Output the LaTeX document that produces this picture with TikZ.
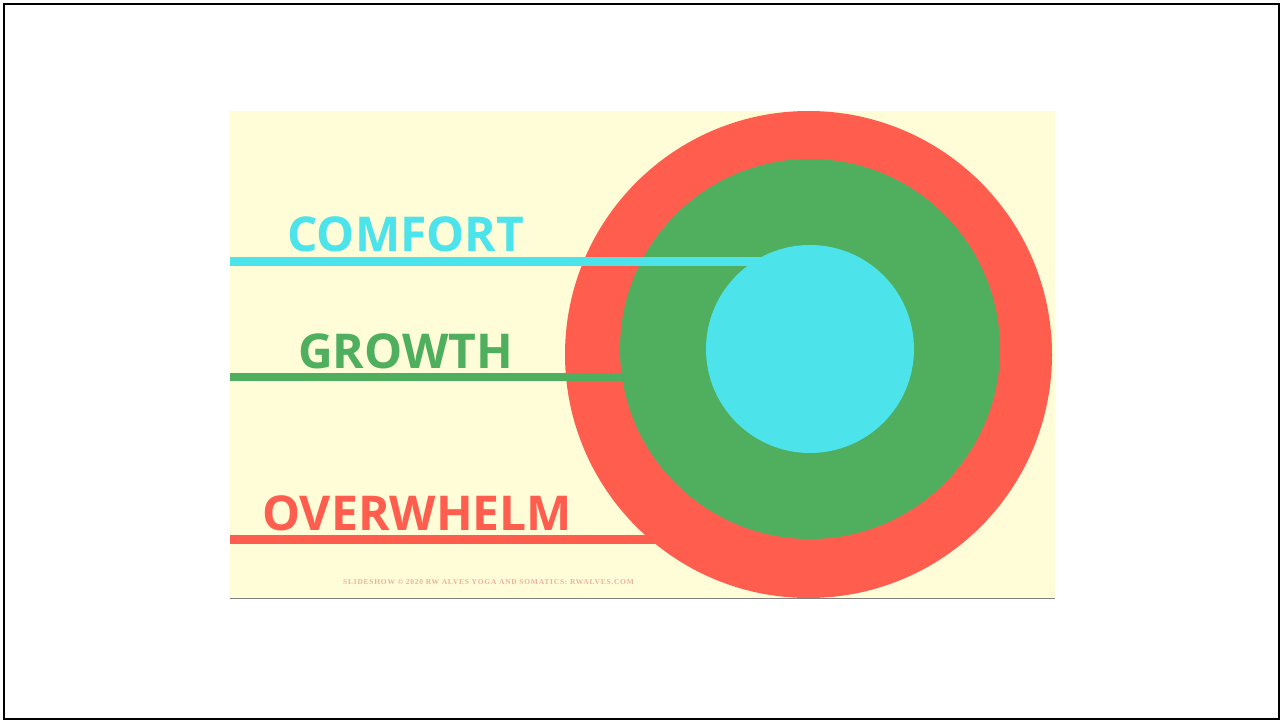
\documentclass[tikz,border=0pt]{standalone}
\usepackage{fontspec}
\newfontfamily\labelfont{Open Sans}
\newfontfamily\footfont[LetterSpace=10]{Liberation Serif}
\definecolor{zonered}{RGB}{255,94,79}
\definecolor{zonegreen}{RGB}{79,175,95}
\definecolor{zonecyan}{RGB}{77,227,234}
\definecolor{slidecream}{RGB}{255,253,216}
\definecolor{footpink}{RGB}{240,176,156}
\begin{document}
\begin{tikzpicture}[x=1pt, y=-1pt,
    zone/.style={circle, inner sep=0pt, draw=none},
    bar/.style={line width=9pt},
    zonelabel/.style={anchor=base west, inner sep=0pt,
        font=\labelfont\bfseries\fontsize{48}{58}\selectfont}]
    \useasboundingbox (0,0) rectangle (1283,722);
    \draw[line width=2.5pt] (4,4) rectangle (1279,719);

    % Slide
    \fill[slidecream] (230,111) rectangle (1055,598);
    \draw[gray, line width=1.5pt] (230,598.5) -- (1055,598.5);

    \begin{scope}
        \clip (230,111) rectangle (1055,598);

        % Overwhelm
        \node[zone, fill=zonered, minimum size=487pt] (outer) at (808.5,354.5) {};
        \coordinate (redstart) at (230,539.5);
        \draw[bar, zonered] (redstart) -- (redstart -| outer.center);
        \node[zonelabel, zonered] (overwhelm) at (262,530) {OVERWHELM};

        % Growth
        \coordinate (greenstart) at (230,377);
        \draw[bar, zonegreen, line width=8pt] (greenstart) -- (greenstart -| outer.center);
        \node[zone, fill=zonegreen, minimum size=380pt] (middle) at (810,349) {};
        \node[zonelabel, zonegreen] (growth) at (298,368) {GROWTH};

        % Comfort
        \coordinate (cyanstart) at (230,261.5);
        \draw[bar, zonecyan] (cyanstart) -- (cyanstart -| middle.center);
        \node[zone, fill=zonecyan, minimum size=208pt] (inner) at (810,349) {};
        \node[zonelabel, zonecyan] (comfort) at (287,252) {COMFORT};
    \end{scope}

    \node[anchor=base west, inner sep=0pt, footpink,
        font=\footfont\bfseries\fontsize{7.5}{9}\selectfont]
        (credit) at (343,584) {SLIDESHOW © 2020 RW ALVES YOGA AND SOMATICS: RWALVES.COM};
\end{tikzpicture}
\end{document}
